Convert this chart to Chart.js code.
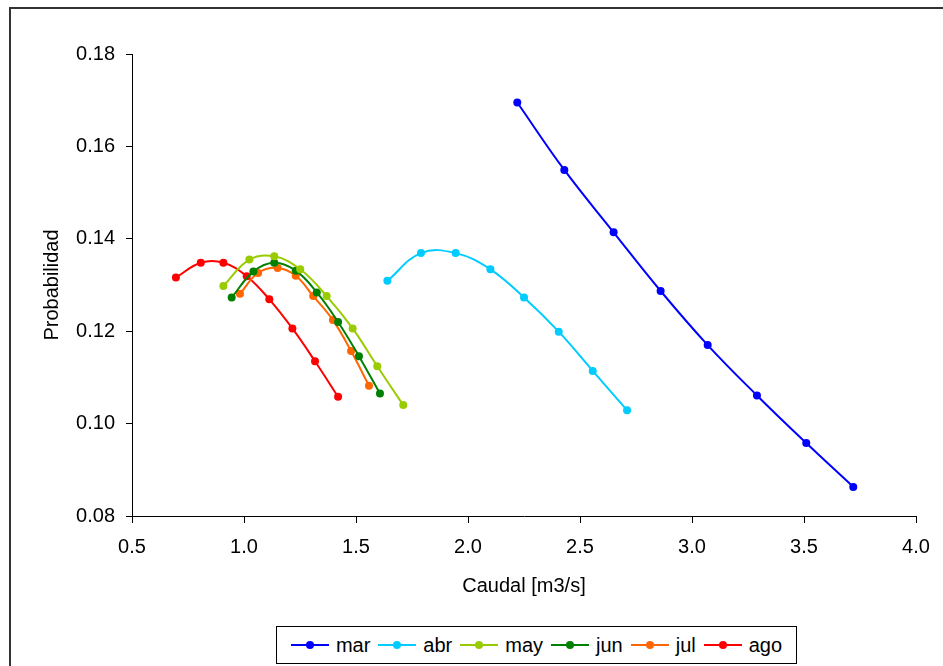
<!DOCTYPE html>
<html>
<head>
<meta charset="utf-8">
<script src="https://cdn.jsdelivr.net/npm/chart.js@4/dist/chart.umd.min.js"></script>
<style>
  body { margin:0; background:#fff; font-family:"Liberation Sans", Arial, sans-serif; }
  #wrap { position:relative; width:943px; height:666px; overflow:hidden; }
  #frame { position:absolute; left:9px; top:7px; width:1000px; height:1000px; border:2px solid #333; }
  #prob_Chart { position:absolute; left:0; top:0; }
  #legend { position:absolute; left:276px; top:626px; width:519px; height:36px; border:1px solid #000;
            display:flex; align-items:center; justify-content:center; font-size:20px; color:#000; background:#fff; }
  .item { display:flex; align-items:center; margin:0 4px; }
  .sw { position:relative; width:38px; height:10px; margin-right:7px; }
  .sw .ln { position:absolute; left:0; right:0; top:4px; height:2px; }
  .sw .dt { position:absolute; left:15px; top:1px; width:8px; height:8px; border-radius:50%; }
</style>
</head>
<body>
<div id="wrap">
  <div id="frame"></div>
  <canvas id="prob_Chart" width="943" height="620"></canvas>
  <div id="legend"></div>
</div>
<script>
/* DATA */
let month_names=["mar","abr","may","jun","jul","ago"];
let month_colors=["#0000FF","#00CCFF","#99CC00","#008000","#FF6600","#FF0000"];

let mar_caudal=[2.22,2.43,2.65,2.86,3.07,3.29,3.51,3.72];
let mar_prob=[0.1695,0.1549,0.1414,0.1287,0.1170,0.1061,0.0958,0.0863];

let abr_caudal=[1.64,1.79,1.945,2.10,2.25,2.405,2.557,2.71];
let abr_prob=[0.1309,0.1369,0.1369,0.1334,0.1273,0.1199,0.1114,0.1029];

let may_caudal=[0.908,1.024,1.135,1.251,1.369,1.485,1.595,1.711];
let may_prob=[0.1298,0.1355,0.1362,0.1334,0.1276,0.1206,0.1124,0.1040];

let jun_caudal=[0.945,1.042,1.135,1.231,1.325,1.420,1.513,1.607];
let jun_prob=[0.1273,0.1329,0.1348,0.1331,0.1284,0.1220,0.1146,0.1065];

let jul_caudal=[0.982,1.063,1.150,1.231,1.309,1.397,1.478,1.558];
let jul_prob=[0.1281,0.1326,0.1337,0.1320,0.1276,0.1224,0.1157,0.1082];

let ago_caudal=[0.696,0.807,0.908,1.012,1.113,1.216,1.317,1.420];
let ago_prob=[0.1316,0.1348,0.1348,0.1319,0.1269,0.1206,0.1135,0.1058];

let x_ticks=[0.5,1.0,1.5,2.0,2.5,3.0,3.5,4.0];
let y_ticks=[0.08,0.10,0.12,0.14,0.16,0.18];

let caudal_list=[mar_caudal,abr_caudal,may_caudal,jun_caudal,jul_caudal,ago_caudal];
let prob_list=[mar_prob,abr_prob,may_prob,jun_prob,jul_prob,ago_prob];

/* DATASET SETTING */
let chart_datasets=month_names.map(function(name,i){
  return {
    label:name,
    data:caudal_list[i].map(function(x,j){ return {x:x,y:prob_list[i][j]}; }),
    borderColor:month_colors[i],
    backgroundColor:month_colors[i],
    borderWidth:2,
    pointRadius:4,
    pointBorderWidth:0,
    tension:0.4,
    fill:false
  };
});

let font_family='"Liberation Sans", Arial, sans-serif';

/* CHART SETTING */
const chart_dom=document.getElementById('prob_Chart').getContext('2d');

const probChart=new Chart(chart_dom,{
  type:'line',
  data:{ datasets:chart_datasets },
  options:{
    responsive:false,
    animation:false,
    layout:{ padding:{ top:54, right:27, left:0, bottom:0 } },
    plugins:{ legend:{ display:false }, tooltip:{ enabled:false } },
    scales:{
      x:{
        type:'linear',
        min:0.5, max:4.0,
        afterFit:function(scale){ scale.height=104; },
        afterBuildTicks:function(scale){ scale.ticks=x_ticks.map(function(v){ return {value:v}; }); },
        grid:{ drawOnChartArea:false, drawTicks:true, tickLength:7, color:'#000' },
        border:{ display:true, color:'#000', width:1 },
        ticks:{ color:'#000', padding:12, font:{ family:font_family, size:20 },
                callback:function(v){ return v.toFixed(1); } },
        title:{ display:true, text:'Caudal [m3/s]', color:'#000',
                font:{ family:font_family, size:20 }, padding:{ top:4, bottom:22 } }
      },
      y:{
        type:'linear',
        min:0.08, max:0.18,
        afterFit:function(scale){ scale.width=132; },
        afterBuildTicks:function(scale){ scale.ticks=y_ticks.map(function(v){ return {value:v}; }); },
        grid:{ drawOnChartArea:false, drawTicks:true, tickLength:6, color:'#000' },
        border:{ display:true, color:'#000', width:1 },
        ticks:{ color:'#000', padding:11, font:{ family:font_family, size:20 },
                callback:function(v){ return v.toFixed(2); } },
        title:{ display:true, text:'Probabilidad', color:'#000',
                font:{ family:font_family, size:20 }, padding:{ top:40, bottom:4 } }
      }
    }
  }
}); // chart setting

/* LEGEND */
let legend_DOM=document.getElementById('legend');
month_names.forEach(function(name,i){
  let item=document.createElement('div');
  item.className='item';
  item.innerHTML='<span class="sw"><span class="ln" style="background:'+month_colors[i]+'"></span>'+
                 '<span class="dt" style="background:'+month_colors[i]+'"></span></span><span>'+name+'</span>';
  legend_DOM.appendChild(item);
});
</script>
</body>
</html>
